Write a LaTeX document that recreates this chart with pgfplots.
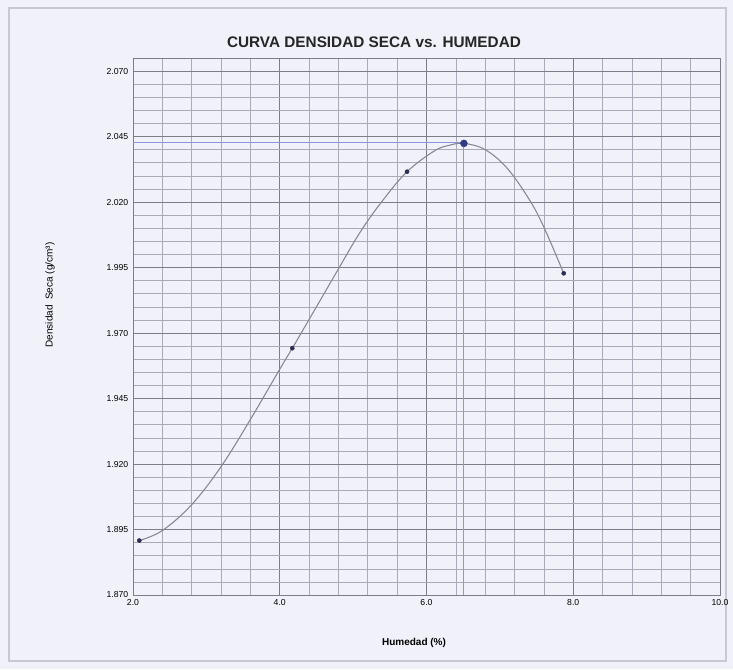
\documentclass[border=0pt]{standalone}
\usepackage{pgfplots}
\pgfplotsset{compat=1.18}
\usepackage{fontspec}
\setmainfont{Liberation Sans}
\definecolor{bg}{RGB}{240,241,249}
\definecolor{framec}{RGB}{200,200,208}
\definecolor{minorg}{RGB}{170,170,182}
\definecolor{majorg}{RGB}{125,125,138}
\definecolor{curvec}{RGB}{135,135,148}
\definecolor{ptc}{RGB}{45,45,80}
\definecolor{peakc}{RGB}{50,60,130}
\definecolor{bluel}{RGB}{140,150,220}
\begin{document}
\begin{tikzpicture}
\fill[bg] (0,0) rectangle (549.75pt,501.75pt);
\draw[framec, line width=0.8pt] (6.75pt,6pt) rectangle (544.5pt,495.75pt);
\begin{axis}[
  at={(99.75pt,55.5pt)}, anchor=south west,
  width=440.25pt, height=402.75pt, scale only axis,
  xmin=2, xmax=10, ymin=1.870, ymax=2.075,
  xtick={2,4,6,8,10},
  ytick={1.870,1.895,1.920,1.945,1.970,1.995,2.020,2.045,2.070},
  minor xtick={2.4,2.8,3.2,3.6,4.4,4.8,5.2,5.6,6.4,6.8,7.2,7.6,8.4,8.8,9.2,9.6},
  minor ytick={1.875,1.880,1.885,1.890,1.900,1.905,1.910,1.915,1.925,1.930,1.935,1.940,1.950,1.955,1.960,1.965,1.975,1.980,1.985,1.990,2.000,2.005,2.010,2.015,2.025,2.030,2.035,2.040,2.050,2.055,2.060,2.065,2.075},
  grid=both,
  major grid style={majorg, line width=0.6pt},
  minor grid style={minorg, line width=0.45pt},
  axis line style={majorg, line width=0.7pt},
  major tick length=0pt, minor tick length=0pt,
  tick style={draw=none},
  axis background/.style={fill=bg},
  /pgf/number format/assume math mode=true,
  xticklabel style={font=\fontsize{6.5}{7}\selectfont, /pgf/number format/.cd, fixed, fixed zerofill, precision=1},
  yticklabel style={font=\fontsize{6.5}{7}\selectfont, /pgf/number format/.cd, fixed, fixed zerofill, precision=3},
  scaled y ticks=false,
  clip=false,
]
\addplot[bluel, line width=0.8pt] coordinates {(2,2.0428) (6.51,2.0428) (6.51,1.870)};
\addplot[curvec, line width=0.8pt, smooth, tension=0.6] coordinates {
(2.086,1.8908) (2.4,1.8946) (2.8,1.9045) (3.2,1.9190) (3.6,1.9370)
(4.0,1.9562) (4.171,1.9642) (4.5,1.9800) (4.8,1.9945) (5.1,2.0087)
(5.4,2.0205) (5.735,2.0316) (6.1,2.0394) (6.3,2.0416) (6.51,2.0424)
(6.8,2.0400) (7.1,2.0329) (7.4,2.0210) (7.6,2.0104) (7.87,1.9928)};
\addplot[only marks, mark=*, mark size=1.5pt, ptc] coordinates {
(2.086,1.8908) (4.171,1.9642) (5.735,2.0316) (7.870,1.9928)};
\addplot[only marks, mark=*, mark size=2.6pt, peakc] coordinates {(6.51,2.0424)};
\end{axis}
\node[font=\bfseries\fontsize{11.5}{13}\selectfont, text=black!85] at (280.5pt,470.25pt) {CURVA DENSIDAD SECA vs. HUMEDAD};
\node[font=\fontsize{7.5}{9}\selectfont, rotate=90] at (37.5pt,280.5pt) {Densidad\ \ Seca (g/cm³)};
\node[font=\bfseries\fontsize{7.5}{9}\selectfont] at (310.5pt,19.5pt) {Humedad (\%)};
\end{tikzpicture}
\end{document}
